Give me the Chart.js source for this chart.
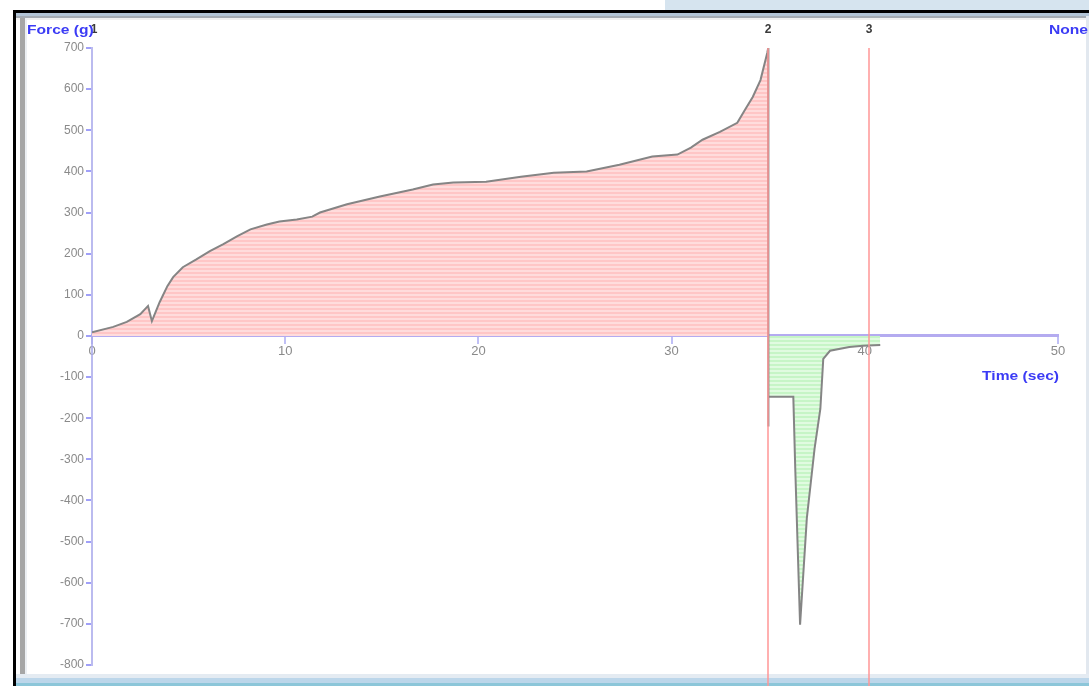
<!DOCTYPE html>
<html>
<head>
<meta charset="utf-8">
<script src="https://cdn.jsdelivr.net/npm/chart.js@4"></script>
<style>
  html, body { margin: 0; padding: 0; background: #fff; }
  body { width: 1089px; height: 686px; position: relative; overflow: hidden; font-family: "Liberation Sans", Arial, sans-serif; }
  .band { position: absolute; }
  #wrap { position: absolute; left: 0; top: 0; width: 1089px; height: 686px; }
</style>
</head>
<body>
<!-- window frame around the plot -->
<div class="band" style="left:665px;top:0;width:424px;height:10px;background:#d6e4ef"></div>
<div class="band" style="left:13px;top:10px;width:1076px;height:3px;background:#000"></div>
<div class="band" style="left:16px;top:13px;width:1073px;height:3px;background:#b2c4d6"></div>
<div class="band" style="left:16px;top:16px;width:1073px;height:2px;background:#a4abb3"></div>
<div class="band" style="left:16px;top:18px;width:1073px;height:2px;background:#f0f0f0"></div>
<div class="band" style="left:13px;top:10px;width:3px;height:676px;background:#000"></div>
<div class="band" style="left:20px;top:18px;width:5px;height:657px;background:#a6a6a6"></div>
<div class="band" style="left:25px;top:18px;width:2px;height:657px;background:#eceff3"></div>
<div class="band" style="left:1086px;top:16px;width:3px;height:670px;background:#e2e8ef"></div>
<div class="band" style="left:16px;top:674px;width:1073px;height:4px;background:#e4ebf2"></div>
<div class="band" style="left:16px;top:678px;width:1073px;height:5px;background:#bcd6ea"></div>
<div class="band" style="left:16px;top:683px;width:1073px;height:3px;background:#8cc6d9"></div>

<div id="wrap"><canvas id="forceChart" width="1089" height="686"></canvas></div>

<script>
// 시간(sec) / 힘(g) 측정값
const timeVals = [0, 1.1, 1.8, 2.5, 2.9, 3.1, 3.5, 3.9, 4.2, 4.7, 5.4, 6.1, 6.8, 7.5, 8.2, 9.05, 9.7,
  10.6, 11.4, 11.8, 13.2, 14.9, 16.6, 17.65, 18.7, 20.4, 22.2, 23.9, 25.6, 27.3, 29.0, 30.3,
  31.0, 31.6, 32.5, 33.4, 33.8, 34.2, 34.6, 34.95, 35.0,
  35.0, 35.02, 36.3, 36.4, 36.65, 37.0, 37.4, 37.7, 37.85, 38.2, 39.2, 39.9, 40.8];
const forceVals = [9, 22, 34, 53, 73, 36, 82, 121, 143, 167, 186, 206, 223, 242, 259, 271, 278,
  283, 290, 300, 320, 339, 356, 368, 373, 375, 387, 397, 400, 416, 436, 441,
  458, 477, 496, 518, 550, 581, 622, 688, 700,
  -220, -148, -148, -322, -702, -443, -274, -177, -56, -36, -27, -24, -22];

// 마커 (1, 2, 3)
const markerTimes = [0, 35.0, 40.2];
const markerLabels = ["1", "2", "3"];

const xTicks = [0, 10, 20, 30, 40, 50];
const yMin = -800, yMax = 700, yStep = 100;

const FONT = "'Liberation Sans', Arial, sans-serif";

// 줄무늬 채우기 패턴
function stripes(c1, c2) {
  const pc = document.createElement("canvas");
  pc.width = 4; pc.height = 4;
  const g = pc.getContext("2d");
  g.fillStyle = c1; g.fillRect(0, 0, 4, 2);
  g.fillStyle = c2; g.fillRect(0, 2, 4, 2);
  return g.createPattern(pc, "repeat");
}

// 가로로 늘린 글자 (x: 왼쪽 기준)
function wideText(ctx, text, x, y, sx) {
  ctx.save();
  ctx.translate(x, y);
  ctx.scale(sx, 1);
  ctx.textAlign = "left";
  ctx.fillText(text, 0, 0);
  ctx.restore();
}

const markerPlugin = {
  id: "markers",
  afterDatasetsDraw(chart) {
    const { ctx, chartArea, scales } = chart;
    ctx.save();
    markerTimes.forEach((t, i) => {
      const px = Math.round(scales.x.getPixelForValue(t));
      if (i > 0) {
        ctx.strokeStyle = "rgba(255,150,150,0.75)";
        ctx.lineWidth = 2;
        ctx.beginPath();
        ctx.moveTo(px, chartArea.top);
        ctx.lineTo(px, 686);
        ctx.stroke();
      }
      ctx.fillStyle = "#3a3a3a";
      ctx.font = "bold 12px " + FONT;
      ctx.textAlign = "center";
      ctx.textBaseline = "middle";
      ctx.fillText(markerLabels[i], px + (i === 0 ? 2 : 0), 30);
    });
    ctx.fillStyle = "#3b3bf5";
    ctx.font = "bold 13px " + FONT;
    ctx.textBaseline = "middle";
    const sx = 1.2;
    wideText(ctx, "Force (g)", 27, 30, sx);
    let w = ctx.measureText("None").width * sx;
    wideText(ctx, "None", 1088 - w, 30, sx);
    w = ctx.measureText("Time (sec)").width * sx;
    wideText(ctx, "Time (sec)", 1059 - w, 376, sx);
    ctx.restore();
  },
};

const ctx = document.getElementById("forceChart").getContext("2d");

new Chart(ctx, {
  type: "line",
  data: {
    datasets: [
      {
        label: "Force",
        data: timeVals.map((t, i) => ({ x: t, y: forceVals[i] })),
        borderColor: "#858585",
        borderWidth: 2,
        pointRadius: 0,
        tension: 0,
        fill: {
          target: "origin",
          above: stripes("#ffc6c6", "#ffdcdc"),
          below: stripes("#c6f5c6", "#e0fbe0"),
        },
      },
    ],
  },
  options: {
    responsive: false,
    animation: false,
    layout: { padding: { left: 0, top: 48, right: 31, bottom: 21 } },
    plugins: { legend: { display: false }, tooltip: { enabled: false } },
    scales: {
      x: {
        type: "linear",
        position: { y: 0 },
        min: 0,
        max: 50,
        afterFit: (s) => { s.height = 0; },
        afterBuildTicks: (s) => { s.ticks = xTicks.map((v) => ({ value: v })); },
        border: { display: true, color: "rgba(130,115,230,0.6)", width: 3 },
        grid: { drawOnChartArea: false, drawTicks: true, tickLength: 7, color: "rgba(150,150,240,0.6)", lineWidth: 2 },
        ticks: { color: "#8a8a8a", font: { family: FONT, size: 13 }, padding: 1, maxRotation: 0 },
      },
      y: {
        type: "linear",
        min: yMin,
        max: yMax,
        afterFit: (s) => { s.width = 92; },
        border: { display: true, color: "rgba(170,170,235,0.8)", width: 2 },
        grid: { drawOnChartArea: false, drawTicks: true, tickLength: 6, color: "rgba(120,120,245,0.7)", lineWidth: 2 },
        ticks: { stepSize: yStep, color: "#8a8a8a", font: { family: FONT, size: 12 }, padding: 2 },
      },
    },
  },
  plugins: [markerPlugin],
});
</script>
</body>
</html>
